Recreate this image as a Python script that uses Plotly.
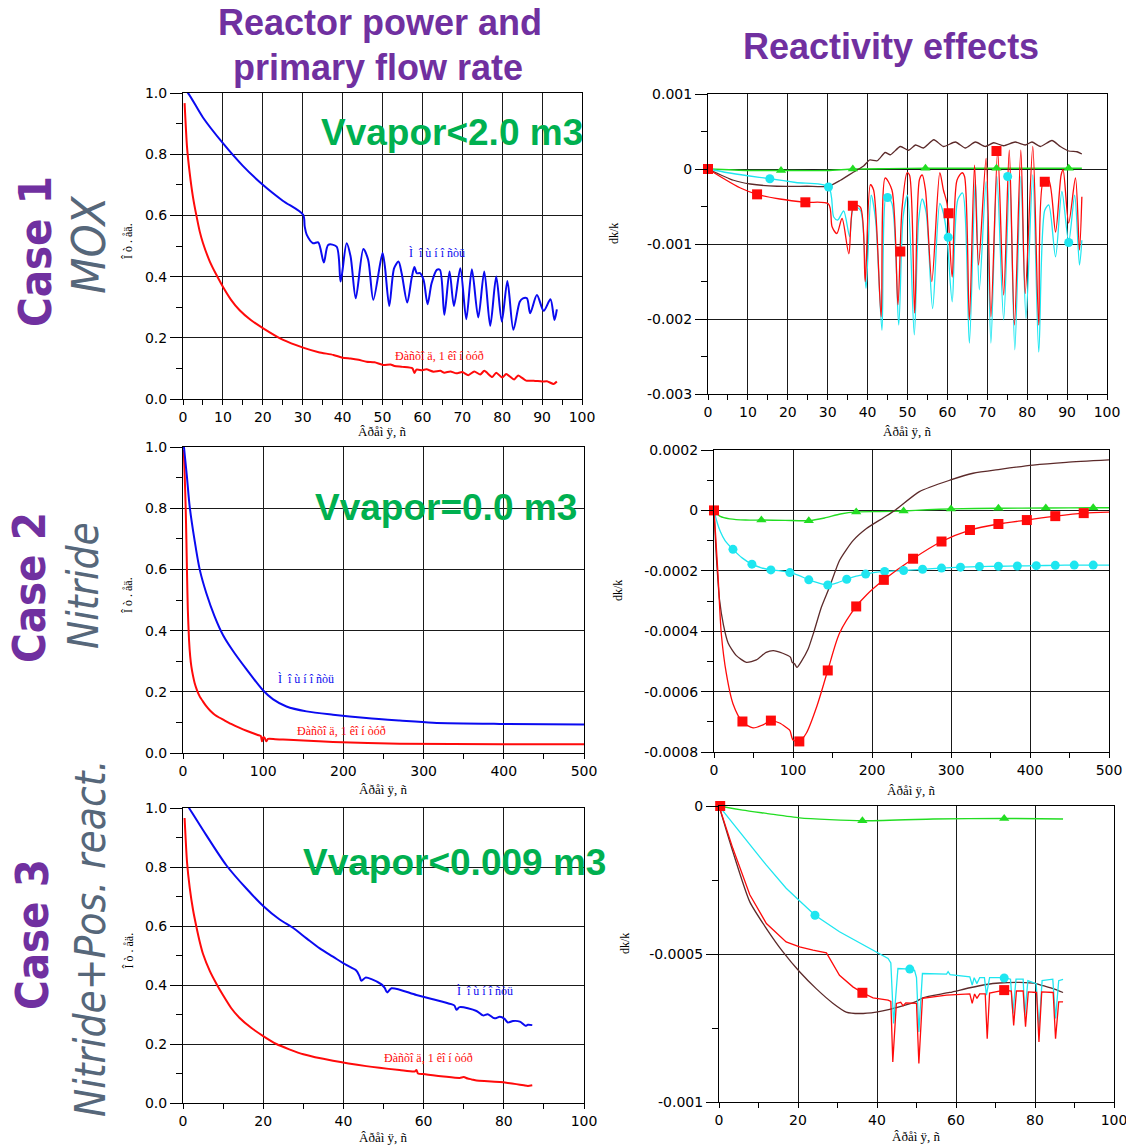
import plotly.graph_objects as go

W, H = 1126, 1146

# ---------------- DATA ----------------
# Case 1 (MOX) - power / flow, relative units vs time (s)
c1_power = [(0, 1.015), (1.25, 1.0), (5, 0.92), (10, 0.836), (15, 0.762), (20, 0.70), (25, 0.648),
            (30.1, 0.602), (30.5, 0.564), (31, 0.537), (32.6, 0.509), (33.9, 0.512), (35.3, 0.446),
            (36.4, 0.504), (38.5, 0.498), (39.5, 0.384), (41.0, 0.509), (42.0, 0.466), (43.3, 0.329),
            (45.2, 0.49), (46.4, 0.455), (47.7, 0.324), (50.0, 0.477), (50.6, 0.433), (51.7, 0.304),
            (52.9, 0.427), (54.0, 0.449), (54.8, 0.411), (56.2, 0.315), (57.3, 0.395), (58.0, 0.431),
            (58.6, 0.411), (59.4, 0.411), (60.3, 0.389), (61.3, 0.31), (62.3, 0.378), (63.6, 0.422),
            (64.4, 0.422), (65.5, 0.275), (66.8, 0.417), (67.9, 0.304), (69.5, 0.427), (71.0, 0.261),
            (72.4, 0.424), (74.0, 0.266), (75.5, 0.417), (77.0, 0.239), (78.5, 0.40), (79.9, 0.253),
            (81.3, 0.386), (82.8, 0.226), (84.4, 0.318), (85.2, 0.329), (86.2, 0.329), (87.0, 0.28),
            (88.7, 0.34), (90.4, 0.288), (92.1, 0.326), (93.1, 0.258), (93.7, 0.293)]
c1_flow = [(0.4, 0.967), (1.0, 0.825), (1.67, 0.74), (2.5, 0.66), (3.35, 0.6), (4.2, 0.547), (5, 0.51),
           (6.7, 0.45), (8.4, 0.405), (10, 0.367), (12, 0.325), (14.2, 0.29), (17, 0.258), (20.1, 0.231),
           (25.1, 0.193), (30.1, 0.168), (34, 0.153), (37.7, 0.144), (40, 0.135), (42, 0.132),
           (44, 0.128), (46, 0.122), (48, 0.12), (50.2, 0.111), (52, 0.113), (53, 0.108), (55, 0.105),
           (57.5, 0.10), (58, 0.085), (58.5, 0.096), (60, 0.094), (61, 0.097), (62.8, 0.089),
           (64.5, 0.092), (65.5, 0.086), (67, 0.09), (68.5, 0.084), (70, 0.088), (71.5, 0.078),
           (73, 0.09), (74.5, 0.08), (75.5, 0.092), (77.5, 0.072), (78.5, 0.086), (80, 0.07),
           (81, 0.082), (83, 0.064), (84, 0.077), (86, 0.06), (87.9, 0.06), (90, 0.057), (91.2, 0.058),
           (92.9, 0.049), (93.7, 0.057)]

# Case 1 - reactivity effects dk/k
c1_total = [(0, 0), (4, -0.00013), (8, -0.00025), (12.3, -0.000338), (18, -0.0004), (24.4, -0.000444),
            (30.2, -0.000467), (31.1, -0.00077), (32.3, -0.00086), (33.6, -0.00066), (35.3, -0.00113),
            (36.5, -0.00049), (38.2, -0.00051), (39.4, -0.0015), (40.7, -0.00021), (41.5, -0.00028),
            (43.4, -0.00197), (44.4, -0.00012), (46.1, -0.00028), (47.6, -0.00181), (48.6, -0.00055),
            (49.9, -0.00005), (50.5, -0.00008), (51.8, -0.00192), (53.0, -0.00014), (53.7, -0.00008),
            (54.5, -0.00028), (56.1, -0.0015), (58.1, -0.00005), (59.0, -0.00028), (59.9, -0.00046),
            (61.2, -0.00144), (62.4, -0.00015), (63.7, -0.00005), (64.3, -0.0001), (65.5, -0.00201),
            (66.8, 0.00005), (67.8, -0.00128), (69.7, 0.00014), (70.9, -0.00197), (72.6, 0.00024),
            (74.1, -0.00168), (75.5, 0.00025), (76.8, -0.00208), (78.4, 0.00025), (79.5, -0.00166),
            (81.4, 0.0003), (82.9, -0.00208), (84.1, -0.00015), (85.4, -0.00015), (87.1, -0.00084),
            (88.5, -0.00008), (89.0, -0.00001), (90.4, -0.00072), (92.1, -0.00012), (93.1, -0.00108),
            (93.7, -0.00037)]
c1_doppler = [(0, 0), (5, -0.00005), (10, -0.00009), (15.5, -0.00013), (22, -0.00018), (30.2, -0.00024),
              (31.5, -0.00064), (32.5, -0.00068), (34.0, -0.00056), (35.5, -0.0009), (36.5, -0.0005),
              (38.2, -0.00055), (39.6, -0.00159), (40.9, -0.00035), (42.0, -0.00068), (43.6, -0.00215),
              (44.7, -0.00035), (46.1, -0.00046), (47.8, -0.00208), (48.9, -0.00064), (50.0, -0.00035),
              (51.7, -0.00221), (52.8, -0.00068), (53.7, -0.0004), (54.7, -0.00059), (56.3, -0.00186),
              (58.1, -0.00046), (59.0, -0.00059), (59.9, -0.0009), (61.2, -0.00177), (62.6, -0.00041),
              (63.8, -0.00032), (65.5, -0.00232), (67.0, -0.00015), (68.0, -0.00161), (69.7, -0.00017),
              (70.9, -0.00232), (72.4, -0.0001), (74.1, -0.00201), (75.6, -0.0001), (76.9, -0.00241),
              (78.4, -0.0001), (79.7, -0.00199), (81.4, -0.00008), (82.9, -0.00244), (84.4, -0.00055),
              (85.4, -0.00048), (87.1, -0.00117), (88.7, -0.0003), (90.4, -0.00097), (91.9, -0.00035),
              (93.1, -0.00128), (93.7, -0.00095)]
c1_axial = [(0, 0), (10, -0.00002), (18.3, -0.00002), (30, -0.00002), (36.3, 0.0), (45, 0.000005),
            (54.5, 0.00001), (72.3, 0.00001), (90.4, 0.00001), (93.7, 0.00001)]
c1_coolant = [(0, 0), (6.4, -0.00015), (10.6, -0.0002), (17.3, -0.00023), (24.8, -0.00023),
              (30.2, -0.00023), (33.2, -0.00015), (36.5, -0.00004), (39, 0.00004), (40.5, 0.00012),
              (42.4, 0.00011), (44.4, 0.00022), (45.7, 0.00019), (48.2, 0.0003), (50.3, 0.00025),
              (52, 0.00032), (54, 0.00028), (56.6, 0.00039), (59, 0.0003), (62, 0.00036), (64.5, 0.00028),
              (67, 0.00036), (69.5, 0.0003), (71.6, 0.00035), (74.1, 0.00031), (77, 0.00036),
              (79.5, 0.00032), (81.2, 0.00036), (83.3, 0.0003), (86.2, 0.00038), (88.3, 0.0003),
              (90.4, 0.00024), (92.5, 0.00023), (93.7, 0.0002)]
c1_total_mk = [(0, 0), (12.3, -0.000338), (24.4, -0.000444), (36.3, -0.00049), (48.2, -0.0011),
               (60.3, -0.00059), (72.3, 0.00024), (84.4, -0.00017)]
c1_doppler_mk = [(15.5, -0.00013), (30.2, -0.00024), (45.0, -0.00038), (60.2, -0.00091),
                 (75.1, -0.0001), (90.4, -0.00098)]
c1_axial_mk = [(18.3, -0.00002), (36.3, 0.0), (54.5, 0.00001), (72.3, 0.00001), (90.4, 0.00001)]

# Case 2 (Nitride) - power / flow
c2_power = [(0, 1.03), (1.2, 1.0), (5, 0.9), (8.3, 0.806), (14.5, 0.694), (20.8, 0.6), (29, 0.523),
            (39.5, 0.446), (50, 0.385), (62, 0.335), (79, 0.274), (99.7, 0.205), (112, 0.176),
            (129, 0.152), (154, 0.136), (187, 0.125), (228.6, 0.114), (270, 0.106), (311.7, 0.099),
            (394.8, 0.095), (500, 0.093)]
c2_flow = [(0.5, 0.99), (1.2, 0.97), (2.2, 0.9), (3.3, 0.806), (4.2, 0.7), (5, 0.588), (6, 0.47),
           (7.5, 0.37), (9, 0.315), (10.4, 0.283), (12.5, 0.252), (14.5, 0.229), (17.5, 0.205),
           (20.8, 0.185), (25, 0.168), (29, 0.153), (34, 0.138), (39.5, 0.125), (45, 0.116), (50, 0.109),
           (60, 0.095), (70.7, 0.082), (80, 0.072), (90, 0.062), (95.6, 0.057), (97, 0.056),
           (98.5, 0.038), (100, 0.052), (101.8, 0.049), (103.9, 0.038), (106, 0.046), (115, 0.045),
           (124.7, 0.044), (150, 0.041), (187, 0.036), (270, 0.03), (400, 0.029), (500, 0.029)]

# Case 2 - reactivity effects
c2_total = [(0, 0), (2, -0.00008), (5, -0.00021), (9.3, -0.00041), (15.6, -0.00054), (24, -0.00064),
            (36, -0.0007), (49.4, -0.00072), (62, -0.00071), (72, -0.000696), (83, -0.000704),
            (92, -0.00072), (96, -0.000728), (100, -0.00076), (108, -0.000765), (117, -0.000737),
            (130, -0.00065), (144, -0.00053), (159, -0.000406), (180, -0.000318), (193, -0.00028),
            (215, -0.00023), (252, -0.00016), (288, -0.000103), (324, -0.000065), (360, -0.000045),
            (396, -0.000032), (432, -0.000019), (468, -0.000009), (500, -0.000006)]
c2_doppler = [(0, 0), (4, -0.00004), (8, -0.00007), (14, -0.0001), (24, -0.000129), (36, -0.000158),
              (48, -0.000178), (60, -0.00019), (72, -0.000197), (84, -0.0002), (96, -0.000206),
              (108, -0.000216), (120, -0.00023), (132, -0.00024), (144, -0.000247), (156, -0.00024),
              (168, -0.000228), (180, -0.000218), (192, -0.000211), (204, -0.000205), (216, -0.000202),
              (240, -0.000199), (264, -0.000195), (288, -0.000191), (312, -0.000188), (336, -0.000186),
              (360, -0.000185), (384, -0.000184), (408, -0.000183), (432, -0.000182), (456, -0.000181),
              (480, -0.000181), (500, -0.000181)]
c2_axial = [(0, 0), (8, -0.00002), (20, -0.000028), (40, -0.000032), (60, -0.000032), (90, -0.000033),
            (120, -0.000034), (140, -0.000025), (160, -0.000012), (180, -0.000005), (210, -0.000004),
            (240, -0.000002), (270, 0.000002), (300, 0.000005), (360, 0.000007), (420, 0.000008),
            (480, 0.000009), (500, 0.000009)]
c2_coolant = [(0, 0), (3, -0.000154), (7, -0.000296), (12, -0.00038), (18, -0.00044), (28, -0.00048),
              (41, -0.000503), (53.6, -0.000495), (66, -0.00047), (75, -0.000464), (87, -0.000473),
              (96.7, -0.000486), (99, -0.000503), (102, -0.000508), (105, -0.00052), (110.6, -0.0005),
              (119, -0.00046), (126.7, -0.0004), (136, -0.00032), (146.5, -0.000252), (159, -0.000165),
              (176, -0.0001), (193, -0.00006), (214, -0.000025), (229, 0.0), (260, 0.000062),
              (298.6, 0.0001), (328, 0.000123), (362, 0.000136), (404, 0.00015), (446, 0.000159),
              (500, 0.000167)]
c2_total_mk = [(0, 0), (36, -0.000699), (72, -0.000696), (108, -0.000765), (144, -0.00053),
               (180, -0.000318), (215, -0.00023), (252, -0.00016), (288, -0.000103), (324, -0.000065),
               (360, -0.000045), (396, -0.000032), (432, -0.000019), (468, -0.000009)]
c2_doppler_mk = [(24, -0.000129), (48, -0.000178), (72, -0.000197), (96, -0.000206), (120, -0.00023),
                 (144, -0.000247), (168, -0.000228), (192, -0.000211), (216, -0.000202), (240, -0.000199),
                 (264, -0.000195), (288, -0.000191), (312, -0.000188), (336, -0.000186), (360, -0.000185),
                 (384, -0.000184), (408, -0.000183), (432, -0.000182), (456, -0.000181), (480, -0.000181)]
c2_axial_mk = [(60, -0.000032), (120, -0.000034), (180, -0.000005), (240, -0.000002), (300, 0.000005),
               (360, 0.000007), (420, 0.000008), (480, 0.000009)]

# Case 3 (Nitride + positive reactivity) - power / flow
c3_power = [(0, 1.03), (1.5, 1.0), (5.8, 0.908), (10.8, 0.806), (15.8, 0.727), (20, 0.668), (24.1, 0.622),
            (27.4, 0.594), (30.8, 0.558), (34.1, 0.524), (37.4, 0.496), (40.7, 0.468), (43.2, 0.449),
            (44, 0.43), (44.5, 0.414), (45.5, 0.425), (47, 0.42), (49.5, 0.402), (50.3, 0.39),
            (50.9, 0.375), (52, 0.389), (58.2, 0.366), (62.3, 0.352), (66.9, 0.335), (67.7, 0.33),
            (68.2, 0.316), (69, 0.325), (73.2, 0.312), (74.8, 0.297), (76, 0.301), (77.7, 0.287),
            (79, 0.292), (80.2, 0.285), (81, 0.273), (82.3, 0.278), (84, 0.276), (85.4, 0.262),
            (86, 0.265), (87.1, 0.264)]
c3_flow = [(0.4, 0.966), (1.0, 0.817), (1.67, 0.73), (2.5, 0.655), (3.3, 0.6), (4.2, 0.545), (5, 0.505),
           (6.7, 0.447), (8.5, 0.4), (10, 0.365), (12, 0.322), (14, 0.29), (17, 0.255), (20, 0.227),
           (23.3, 0.2), (26.5, 0.182), (30, 0.165), (37.4, 0.143), (45.7, 0.125), (54, 0.112),
           (57.8, 0.107), (58.2, 0.112), (58.6, 0.1), (60, 0.098), (62.3, 0.094), (65, 0.09),
           (69, 0.085), (70, 0.088), (71, 0.083), (72, 0.08), (73.2, 0.076), (76, 0.074), (79, 0.071),
           (81, 0.068), (83.1, 0.064), (85, 0.06), (86, 0.058), (87.1, 0.06)]

# Case 3 - reactivity effects
c3_total = [(0, 0), (3.5, -0.000143), (7.8, -0.0003), (12, -0.000397), (17, -0.000459), (20.4, -0.000476),
            (23.8, -0.000487), (27.2, -0.000496), (30.5, -0.000572), (33.9, -0.000611), (36.3, -0.000631),
            (39, -0.000648), (42.8, -0.000656), (43.5, -0.00066), (44, -0.000865), (44.9, -0.000667),
            (46, -0.000663), (46.6, -0.000675), (47.3, -0.000665), (50, -0.000667), (50.6, -0.00087),
            (51.5, -0.00065), (57.6, -0.000639), (63.5, -0.000635), (64.1, -0.000667), (64.7, -0.000635),
            (65.3, -0.00065), (66, -0.000635), (67.4, -0.000635), (67.9, -0.000786), (68.5, -0.000632),
            (72.2, -0.000622), (74, -0.000625), (74.6, -0.000741), (75.3, -0.000625), (77, -0.000625),
            (77.6, -0.000746), (78.3, -0.000628), (80.4, -0.00063), (81, -0.000797), (81.7, -0.000628),
            (84.6, -0.00063), (85.2, -0.000786), (86, -0.000662), (87.1, -0.000662)]
c3_doppler = [(0, 0), (5.2, -0.000087), (12, -0.0002), (17, -0.000278), (24.3, -0.000369), (30.5, -0.000425),
              (37.3, -0.000476), (42.8, -0.000515), (43.5, -0.00053), (44.2, -0.000735), (45.3, -0.000549),
              (48.3, -0.000551), (49.5, -0.000555), (50.0, -0.00058), (50.6, -0.000763), (51.5, -0.000566),
              (57.6, -0.000568), (58, -0.00056), (58.5, -0.00057), (63.5, -0.000577), (64.1, -0.000605),
              (64.6, -0.00058), (65.3, -0.0006), (66, -0.00058), (67.2, -0.00058), (67.7, -0.000639),
              (68.5, -0.00058), (72.2, -0.00058), (73.8, -0.000585), (74.4, -0.000701), (75.2, -0.000585),
              (77, -0.000585), (77.4, -0.000707), (78.2, -0.00059), (80.3, -0.0006), (81, -0.000752),
              (81.8, -0.00059), (84.5, -0.000585), (85.2, -0.000718), (86, -0.00059), (87.1, -0.000586)]
c3_axial = [(0, 0), (6, -0.000014), (12, -0.000025), (20.4, -0.00004), (28, -0.000046), (36.3, -0.00005),
            (54.2, -0.000044), (72.2, -0.000042), (87.1, -0.000044)]
c3_coolant = [(0, 0), (3.5, -0.000154), (7.8, -0.000324), (12, -0.000414), (16.2, -0.000493),
              (20.4, -0.00056), (24.6, -0.000617), (28.9, -0.000667), (32.2, -0.000696), (35.6, -0.000701),
              (39.8, -0.000696), (43.2, -0.000687), (50, -0.00066), (51.6, -0.000648), (58.4, -0.00063),
              (63.5, -0.000614), (67.7, -0.000603), (71, -0.000598), (76.1, -0.000596), (80.3, -0.0006),
              (82, -0.000607), (84.6, -0.000617), (87.1, -0.00063)]
c3_total_mk = [(0.3, 0.0), (36.3, -0.000631), (72.2, -0.000622)]
c3_doppler_mk = [(24.3, -0.000369), (48.3, -0.000551), (72.2, -0.000581)]
c3_axial_mk = [(36.3, -0.00005), (72.2, -0.000042)]

# Text
col_title_left = ["Reactor power and", "primary flow rate"]
col_title_right = "Reactivity effects"
case_names = ["Case 1", "Case 2", "Case 3"]
case_fuels = ["MOX", "Nitride", "Nitride+Pos. react."]
vapor_notes = ["Vvapor<2.0 m3", "Vvapor=0.0 m3", "Vvapor<0.009 m3"]
x_title = "Âðåì ÿ, ñ"
y_title_left = "Î ò . åä."
y_title_right = "dk/k"
lbl_power = "Ì  î ù í î ñòü"
lbl_flow = "Ðàñõî ä, 1 êî í òóð"

# right-panel tick labels
r1_ticks = [0.001, 0, -0.001, -0.002, -0.003]
r1_text = ["0.001", "0", "-0.001", "-0.002", "-0.003"]
r2_ticks = [0.0002, 0, -0.0002, -0.0004, -0.0006, -0.0008]
r2_text = ["0.0002", "0", "-0.0002", "-0.0004", "-0.0006", "-0.0008"]
r3_ticks = [0, -0.0005, -0.001]
r3_text = ["0", "-0.0005", "-0.001"]

# ---------------- FIGURE ----------------
def unz(p):
    return [a for a, _ in p], [b for _, b in p]

def xd(a, b):
    return [a / W, b / W]

def yd(top, bot):
    return [1 - bot / H, 1 - top / H]

BLUE = "#0a0af0"
RED = "#ff0a0a"
CYAN = "#1ee6f0"
GREEN = "#22dd22"
BROWN = "#5c2a2a"

fig = go.Figure()

def line(pts, color, ax, width=1.3, shape="linear", smooth=1.0):
    x, y = unz(pts)
    ln = dict(color=color, width=width, shape=shape)
    if shape == "spline":
        ln["smoothing"] = smooth
    fig.add_trace(go.Scatter(x=x, y=y, mode="lines", xaxis="x" + ax, yaxis="y" + ax,
                             line=ln, showlegend=False, hoverinfo="skip"))

def marks(pts, color, ax, symbol, size):
    x, y = unz(pts)
    fig.add_trace(go.Scatter(x=x, y=y, mode="markers", xaxis="x" + ax, yaxis="y" + ax,
                             marker=dict(color=color, symbol=symbol, size=size, line=dict(width=0)),
                             cliponaxis=False, showlegend=False, hoverinfo="skip"))

# power/flow panels
for ax, pw, fl in [("", c1_power, c1_flow), ("3", c2_power, c2_flow), ("5", c3_power, c3_flow)]:
    line(fl, RED, ax, width=2, shape="spline", smooth=0.6)
    line(pw, BLUE, ax, width=2, shape="spline", smooth=0.8)

# reactivity panels
for ax, tot, dop, axl, cool, tmk, dmk, amk in [
        ("2", c1_total, c1_doppler, c1_axial, c1_coolant, c1_total_mk, c1_doppler_mk, c1_axial_mk),
        ("4", c2_total, c2_doppler, c2_axial, c2_coolant, c2_total_mk, c2_doppler_mk, c2_axial_mk),
        ("6", c3_total, c3_doppler, c3_axial, c3_coolant, c3_total_mk, c3_doppler_mk, c3_axial_mk)]:
    sh = "spline" if ax != "6" else "linear"
    line(axl, GREEN, ax, width=1.4, shape="spline", smooth=0.6)
    line(cool, BROWN, ax, width=1.3, shape="spline", smooth=0.6)
    line(dop, CYAN, ax, width=1.3, shape=sh, smooth=0.8)
    line(tot, RED, ax, width=1.3, shape=sh, smooth=0.8)
    marks(amk, GREEN, ax, "triangle-up", 9)
    marks(dmk, CYAN, ax, "circle", 9)
    marks(tmk, RED, ax, "square", 10)

TICKFONT = dict(family="DejaVu Sans, Verdana, sans-serif", size=14, color="black")

def xaxis(dom, rng, dtick, minor, anchor):
    return dict(domain=dom, range=rng, dtick=dtick, tick0=0, anchor=anchor,
                showgrid=True, gridcolor="#1a1a1a", gridwidth=1, zeroline=False,
                showline=True, linecolor="black", linewidth=1, mirror=True,
                ticks="outside", ticklen=5, tickcolor="black", tickfont=TICKFONT,
                ticklabeloverflow="allow",
                minor=dict(tickmode="linear", tick0=0, dtick=minor, ticks="outside", ticklen=5,
                           tickcolor="black", showgrid=False),
                fixedrange=True, automargin=False)

def yaxis(dom, rng, anchor, minor, tickvals=None, ticktext=None, dtick=None):
    d = dict(domain=dom, range=rng, anchor=anchor,
             showgrid=True, gridcolor="#1a1a1a", gridwidth=1, zeroline=False,
             showline=True, linecolor="black", linewidth=1, mirror=True,
             ticks="outside", ticklen=12, tickcolor="black", tickfont=TICKFONT,
             ticklabeloverflow="allow",
             minor=dict(tickmode="linear", tick0=0, dtick=minor, ticks="outside", ticklen=6,
                        tickcolor="black", showgrid=False),
             fixedrange=True, automargin=False)
    if tickvals is not None:
        d.update(tickmode="array", tickvals=tickvals, ticktext=ticktext)
    else:
        d.update(dtick=dtick, tick0=0, tickformat=".1f")
    return d

P = {
    "1": dict(x=(183, 582), y=(93, 399)),
    "2": dict(x=(708, 1107), y=(94, 394)),
    "3": dict(x=(183, 584), y=(447, 753)),
    "4": dict(x=(714, 1109), y=(450, 752)),
    "5": dict(x=(183, 584), y=(808, 1103)),
    "6": dict(x=(719, 1114), y=(806, 1102)),
}

layout = dict(
    width=W, height=H, margin=dict(l=0, r=0, t=0, b=0),
    paper_bgcolor="white", plot_bgcolor="white", showlegend=False,
    xaxis=xaxis(xd(*P["1"]["x"]), [0, 100], 10, 5, "y"),
    yaxis=yaxis(yd(*P["1"]["y"]), [0, 1.0], "x", 0.1, dtick=0.2),
    xaxis2=xaxis(xd(*P["2"]["x"]), [0, 100], 10, 5, "y2"),
    yaxis2=yaxis(yd(*P["2"]["y"]), [-0.003, 0.001], "x2", 0.0005, r1_ticks, r1_text),
    xaxis3=xaxis(xd(*P["3"]["x"]), [0, 500], 100, 50, "y3"),
    yaxis3=yaxis(yd(*P["3"]["y"]), [0, 1.0], "x3", 0.1, dtick=0.2),
    xaxis4=xaxis(xd(*P["4"]["x"]), [0, 500], 100, 50, "y4"),
    yaxis4=yaxis(yd(*P["4"]["y"]), [-0.0008, 0.0002], "x4", 0.0001, r2_ticks, r2_text),
    xaxis5=xaxis(xd(*P["5"]["x"]), [0, 100], 20, 10, "y5"),
    yaxis5=yaxis(yd(*P["5"]["y"]), [0, 1.0], "x5", 0.1, dtick=0.2),
    xaxis6=xaxis(xd(*P["6"]["x"]), [0, 100], 20, 10, "y6"),
    yaxis6=yaxis(yd(*P["6"]["y"]), [-0.001, 0], "x6", 0.00025, r3_ticks, r3_text),
)
fig.update_layout(**layout)

ann = []

def A(text, px, py, size, color, family, bold=False, italic=False, angle=0, xanchor="center"):
    t = text
    if bold:
        t = "<b>" + t + "</b>"
    if italic:
        t = "<i>" + t + "</i>"
    ann.append(dict(text=t, x=px / W, y=1 - py / H, xref="paper", yref="paper", showarrow=False,
                    xanchor=xanchor, yanchor="middle", textangle=angle,
                    font=dict(size=size, color=color, family=family)))

PURPLE = "#7030a0"
SANS = "Liberation Sans, Arial, sans-serif"
NARROW = "DejaVu Sans Condensed, Liberation Sans Narrow, sans-serif"
SERIF = "Liberation Serif, Times New Roman, serif"

A(col_title_left[0], 380, 22, 36, PURPLE, SANS, bold=True)
A(col_title_left[1], 378, 67, 36, PURPLE, SANS, bold=True)
A(col_title_right, 891, 47, 36, PURPLE, SANS, bold=True)

for name, cx, cy in zip(case_names, [35, 29, 32], [252, 588, 935]):
    A(name, cx, cy, 45, PURPLE, NARROW, bold=True, angle=-90)
for fuel, cx, cy, sz in zip(case_fuels, [88, 83, 90], [245, 586, 938], [47, 42, 42]):
    A(fuel, cx, cy, sz, "#56677a", NARROW, italic=True, angle=-90)

GREENTXT = "#00b050"
for note, cx, cy in zip(vapor_notes, [452, 446, 455], [132, 507, 862]):
    A(note, cx, cy, 37, GREENTXT, SANS, bold=True)

# axis titles
for k, dy in [("1", 33), ("2", 38), ("3", 36), ("4", 38), ("5", 34), ("6", 34)]:
    x0, x1 = P[k]["x"]
    A(x_title, (x0 + x1) / 2, P[k]["y"][1] + dy, 13, "black", SERIF)
for k, xx in [("1", 128), ("3", 128), ("5", 128)]:
    y0, y1 = P[k]["y"]
    A(y_title_left, xx, (y0 + y1) / 2 - 5, 12, "black", SERIF, angle=-90)
for k, xx in [("2", 614), ("4", 618), ("6", 625)]:
    y0, y1 = P[k]["y"]
    A(y_title_right, xx, (y0 + y1) / 2 - 10, 12, "black", SERIF, angle=-90)

fig.update_layout(annotations=ann)

# curve labels (data coordinates)
for ax, (px_, py_), (fx, fy) in [("", (63.6, 0.477), (64.2, 0.141)),
                                  ("3", (153, 0.243), (198, 0.073)),
                                  ("5", (75.2, 0.38), (61.1, 0.152))]:
    fig.add_annotation(text=lbl_power, x=px_, y=py_, xref="x" + ax, yref="y" + ax, showarrow=False,
                       font=dict(size=12, color=BLUE, family=SERIF))
    fig.add_annotation(text=lbl_flow, x=fx, y=fy, xref="x" + ax, yref="y" + ax, showarrow=False,
                       font=dict(size=12, color=RED, family=SERIF))

fig.write_html("out.html")
